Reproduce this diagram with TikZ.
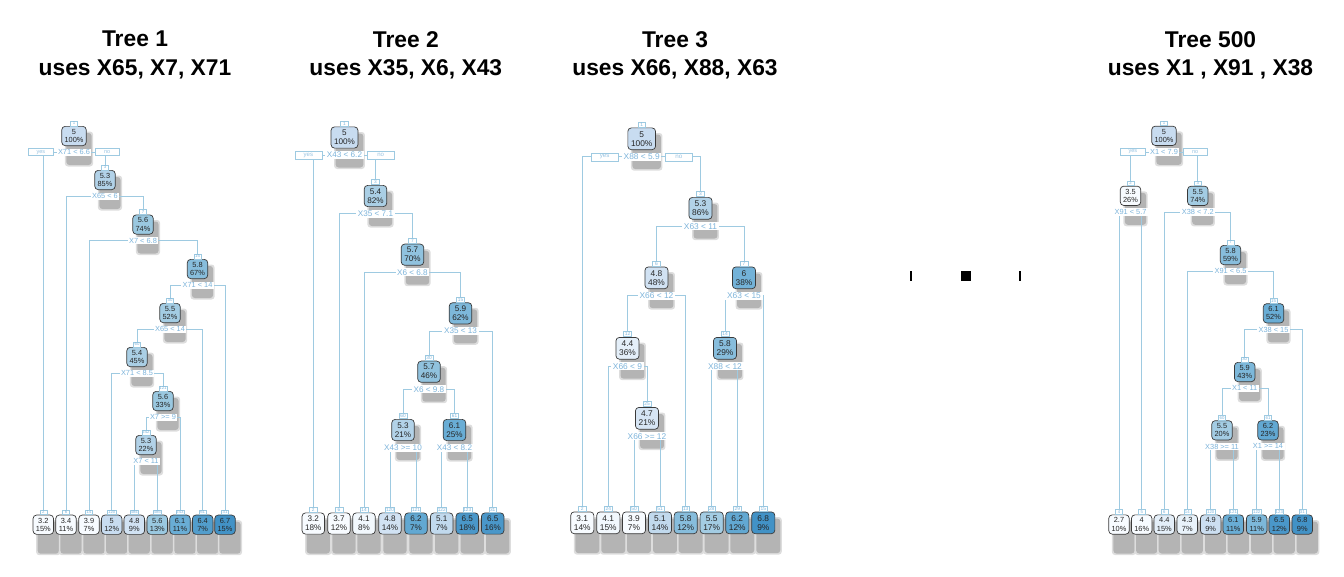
\documentclass[tikz,border=0pt]{standalone}
\usepackage{fontspec}
\setmainfont{Liberation Sans}
\usetikzlibrary{positioning}

\definecolor{bl0}{HTML}{F7FBFF}
\definecolor{bl1}{HTML}{DEEBF7}
\definecolor{bl2}{HTML}{C6DBEF}
\definecolor{bl3}{HTML}{9ECAE1}
\definecolor{bl4}{HTML}{6BAED6}
\definecolor{bl5}{HTML}{4292C6}
\definecolor{edgeblue}{HTML}{9ECAE1}
\definecolor{splitblue}{HTML}{7DB4DB}
\definecolor{boxline}{HTML}{3A3A3A}
\definecolor{shadegray}{HTML}{B4B4B4}

\pgfdeclarelayer{shadow}
\pgfdeclarelayer{edges}
\pgfsetlayers{shadow,edges,main}

\tikzset{
  val/.code={%
    \pgfmathsetmacro\shadeT{max(0,min(4.99,(#1-4)*5/2.6))}%
    \pgfmathtruncatemacro\shadeLo{floor(\shadeT)}%
    \pgfmathtruncatemacro\shadeHi{\shadeLo+1}%
    \pgfmathtruncatemacro\shadePc{round(100-(\shadeT-\shadeLo)*100)}%
    \edef\shadeDo{\noexpand\pgfkeysalso{fill=bl\shadeLo!\shadePc!bl\shadeHi}}\shadeDo},
  box/.style={draw=boxline, line width=0.7pt, rounded corners=3.5pt, align=center,
    text=black!85, font=\fontsize{7.4}{8.2}\selectfont, inner xsep=2.8pt, inner ysep=1.5pt,
    minimum width=20.5pt, minimum height=19.3pt},
  tag/.style={draw=edgeblue, fill=white, line width=0.5pt, text=splitblue,
    font=\fontsize{4.3}{4.3}\selectfont, inner sep=0.5pt, minimum width=7pt, minimum height=4.6pt},
  splitlbl/.style={fill=white, text=splitblue, font=\fontsize{7.4}{8}\selectfont,
    inner xsep=1.5pt, inner ysep=1pt},
  yesno/.style={draw=edgeblue, fill=white, line width=0.5pt, text=splitblue!80,
    font=\fontsize{5.5}{5.5}\selectfont, minimum width=24.5pt, minimum height=7pt, inner sep=0pt},
  conn/.style={draw=edgeblue, line width=0.8pt},
  dropshade/.style={fill=shadegray, rounded corners=3pt},
  title/.style={align=center, font=\fontsize{22.8}{28.3}\bfseries\selectfont, inner sep=0pt},
  gapmark/.style={fill=black, inner sep=0pt, minimum height=10pt},
}

\begin{document}
\begin{tikzpicture}[x=1pt, y=-1pt]
\useasboundingbox (0,0) rectangle (1344,576);

% titles
\node[title] (title1) at (135,55) {Tree 1\\uses X65, X7, X71};
\node[title] (title2) at (405.8,55) {Tree 2\\uses X35, X6, X43};
\node[title] (title3) at (675,55) {Tree 3\\uses X66, X88, X63};
\node[title] (title500) at (1210.5,55) {Tree 500\\uses X1 , X91 , X38};

% tree 1
\node[box, val=5.0, label={[tag]above:1}] (t1n1) at (74,136) {5\\100\%};
\node[splitlbl, below=2.4pt of t1n1] (t1s1) {X71 < 6.6};
\node[yesno, left=3pt of t1s1] (t1yes) {yes};
\node[yesno, right=3pt of t1s1] (t1no) {no};
\node[box, val=5.3, label={[tag]above:3}] (t1n3) at (105,180) {5.3\\85\%};
\node[splitlbl, below=2.4pt of t1n3] (t1s3) {X65 < 6};
\node[box, val=5.6, label={[tag]above:7}] (t1n7) at (143,224.5) {5.6\\74\%};
\node[splitlbl, below=2.4pt of t1n7] (t1s7) {X7 < 6.8};
\node[box, val=5.8, label={[tag]above:15}] (t1n15) at (197.5,269) {5.8\\67\%};
\node[splitlbl, below=2.4pt of t1n15] (t1s15) {X71 < 14};
\node[box, val=5.5, label={[tag]above:30}] (t1n30) at (170,313) {5.5\\52\%};
\node[splitlbl, below=2.4pt of t1n30] (t1s30) {X65 < 14};
\node[box, val=5.4, label={[tag]above:60}] (t1n60) at (137,357) {5.4\\45\%};
\node[splitlbl, below=2.4pt of t1n60] (t1s60) {X71 < 8.5};
\node[box, val=5.6, label={[tag]above:121}] (t1n121) at (163,401) {5.6\\33\%};
\node[splitlbl, below=2.4pt of t1n121] (t1s121) {X7 >= 9};
\node[box, val=5.3, label={[tag]above:242}] (t1n242) at (146,445) {5.3\\22\%};
\node[splitlbl, below=2.4pt of t1n242] (t1s242) {X7 < 11};
\node[box, val=3.2, label={[tag]above:2}] (t1n2) at (43.3,524.7) {3.2\\15\%};
\node[box, val=3.4, label={[tag]above:6}] (t1n6) at (66,524.7) {3.4\\11\%};
\node[box, val=3.9, label={[tag]above:14}] (t1n14) at (89,524.7) {3.9\\7\%};
\node[box, val=5.0, label={[tag]above:120}] (t1n120) at (111.7,524.7) {5\\12\%};
\node[box, val=4.8, label={[tag]above:484}] (t1n484) at (134.3,524.7) {4.8\\9\%};
\node[box, val=5.6, label={[tag]above:485}] (t1n485) at (157.3,524.7) {5.6\\13\%};
\node[box, val=6.1, label={[tag]above:243}] (t1n243) at (180,524.7) {6.1\\11\%};
\node[box, val=6.4, label={[tag]above:61}] (t1n61) at (202.7,524.7) {6.4\\7\%};
\node[box, val=6.7, label={[tag]above:31}] (t1n31) at (225,524.7) {6.7\\15\%};

% tree 2
\begin{scope}[every node/.append style={scale=1.1}]
\node[box, val=5.0, label={[tag]above:1}] (t2n1) at (344.5,137.5) {5\\100\%};
\node[splitlbl, below=2.4pt of t2n1] (t2s1) {X43 < 6.2};
\node[yesno, left=3pt of t2s1] (t2yes) {yes};
\node[yesno, right=3pt of t2s1] (t2no) {no};
\node[box, val=5.4, label={[tag]above:3}] (t2n3) at (375.5,196) {5.4\\82\%};
\node[splitlbl, below=2.4pt of t2n3] (t2s3) {X35 < 7.1};
\node[box, val=5.7, label={[tag]above:7}] (t2n7) at (412.5,254.7) {5.7\\70\%};
\node[splitlbl, below=2.4pt of t2n7] (t2s7) {X6 < 6.8};
\node[box, val=5.9, label={[tag]above:15}] (t2n15) at (460.5,313.3) {5.9\\62\%};
\node[splitlbl, below=2.4pt of t2n15] (t2s15) {X35 < 13};
\node[box, val=5.7, label={[tag]above:30}] (t2n30) at (429,371.7) {5.7\\46\%};
\node[splitlbl, below=2.4pt of t2n30] (t2s30) {X6 < 9.8};
\node[box, val=5.3, label={[tag]above:60}] (t2n60) at (403,430) {5.3\\21\%};
\node[splitlbl, below=2.4pt of t2n60] (t2s60) {X43 >= 10};
\node[box, val=6.1, label={[tag]above:61}] (t2n61) at (454.5,430) {6.1\\25\%};
\node[splitlbl, below=2.4pt of t2n61] (t2s61) {X43 < 8.2};
\node[box, val=3.2, label={[tag]above:2}] (t2n2) at (313.3,523.5) {3.2\\18\%};
\node[box, val=3.7, label={[tag]above:6}] (t2n6) at (339,523.5) {3.7\\12\%};
\node[box, val=4.1, label={[tag]above:14}] (t2n14) at (364,523.5) {4.1\\8\%};
\node[box, val=4.8, label={[tag]above:120}] (t2n120) at (390,523.5) {4.8\\14\%};
\node[box, val=6.2, label={[tag]above:121}] (t2n121) at (416,523.5) {6.2\\7\%};
\node[box, val=5.1, label={[tag]above:122}] (t2n122) at (441.7,523.5) {5.1\\7\%};
\node[box, val=6.5, label={[tag]above:123}] (t2n123) at (467.3,523.5) {6.5\\18\%};
\node[box, val=6.5, label={[tag]above:31}] (t2n31) at (492.7,523.5) {6.5\\16\%};
\end{scope}

% tree 3
\begin{scope}[every node/.append style={scale=1.13}]
\node[box, val=5.0, label={[tag]above:1}] (t3n1) at (641.7,138.8) {5\\100\%};
\node[splitlbl, below=2.4pt of t3n1] (t3s1) {X88 < 5.9};
\node[yesno, left=3pt of t3s1] (t3yes) {yes};
\node[yesno, right=3pt of t3s1] (t3no) {no};
\node[box, val=5.3, label={[tag]above:3}] (t3n3) at (700.5,208.3) {5.3\\86\%};
\node[splitlbl, below=2.4pt of t3n3] (t3s3) {X63 < 11};
\node[box, val=4.8, label={[tag]above:6}] (t3n6) at (656.5,277.8) {4.8\\48\%};
\node[splitlbl, below=2.4pt of t3n6] (t3s6) {X66 < 12};
\node[box, val=6.0, label={[tag]above:7}] (t3n7) at (744,277.8) {6\\38\%};
\node[splitlbl, below=2.4pt of t3n7] (t3s7) {X63 < 15};
\node[box, val=4.4, label={[tag]above:12}] (t3n12) at (627.5,348.3) {4.4\\36\%};
\node[splitlbl, below=2.4pt of t3n12] (t3s12) {X66 < 9};
\node[box, val=5.8, label={[tag]above:14}] (t3n14) at (725,348.3) {5.8\\29\%};
\node[splitlbl, below=2.4pt of t3n14] (t3s14) {X88 < 12};
\node[box, val=4.7, label={[tag]above:25}] (t3n25) at (647,418.3) {4.7\\21\%};
\node[splitlbl, below=2.4pt of t3n25] (t3s25) {X66 >= 12};
\node[box, val=3.1, label={[tag]above:2}] (t3n2) at (582.3,522.8) {3.1\\14\%};
\node[box, val=4.1, label={[tag]above:24}] (t3n24) at (608.3,522.8) {4.1\\15\%};
\node[box, val=3.9, label={[tag]above:50}] (t3n50) at (634,522.8) {3.9\\7\%};
\node[box, val=5.1, label={[tag]above:51}] (t3n51) at (660,522.8) {5.1\\14\%};
\node[box, val=5.8, label={[tag]above:13}] (t3n13) at (685.7,522.8) {5.8\\12\%};
\node[box, val=5.5, label={[tag]above:28}] (t3n28) at (711.7,522.8) {5.5\\17\%};
\node[box, val=6.2, label={[tag]above:29}] (t3n29) at (737.3,522.8) {6.2\\12\%};
\node[box, val=6.8, label={[tag]above:15}] (t3n15) at (763.3,522.8) {6.8\\9\%};
\end{scope}

% dots between
\node[gapmark, minimum width=2.2pt] (gapl) at (911,275.7) {};
\node[gapmark, minimum width=10.3pt] (gapm) at (966,275.7) {};
\node[gapmark, minimum width=2.2pt] (gapr) at (1020.3,275.7) {};

% tree 500
\node[box, val=5.0, label={[tag]above:1}] (t5n1) at (1164,135.8) {5\\100\%};
\node[splitlbl, below=2.4pt of t5n1] (t5s1) {X1 < 7.9};
\node[yesno, left=3pt of t5s1] (t5yes) {yes};
\node[yesno, right=3pt of t5s1] (t5no) {no};
\node[box, val=3.5, label={[tag]above:2}] (t5n2) at (1130.5,195.8) {3.5\\26\%};
\node[splitlbl, below=2.4pt of t5n2] (t5s2) {X91 < 5.7};
\node[box, val=5.5, label={[tag]above:3}] (t5n3) at (1197.8,195.8) {5.5\\74\%};
\node[splitlbl, below=2.4pt of t5n3] (t5s3) {X38 < 7.2};
\node[box, val=5.8, label={[tag]above:7}] (t5n7) at (1230.5,255) {5.8\\59\%};
\node[splitlbl, below=2.4pt of t5n7] (t5s7) {X91 < 6.5};
\node[box, val=6.1, label={[tag]above:15}] (t5n15) at (1273.5,313.3) {6.1\\52\%};
\node[splitlbl, below=2.4pt of t5n15] (t5s15) {X38 < 15};
\node[box, val=5.9, label={[tag]above:30}] (t5n30) at (1244.7,372) {5.9\\43\%};
\node[splitlbl, below=2.4pt of t5n30] (t5s30) {X1 < 11};
\node[box, val=5.5, label={[tag]above:60}] (t5n60) at (1222,430.3) {5.5\\20\%};
\node[splitlbl, below=2.4pt of t5n60] (t5s60) {X38 >= 11};
\node[box, val=6.2, label={[tag]above:61}] (t5n61) at (1268,430.3) {6.2\\23\%};
\node[splitlbl, below=2.4pt of t5n61] (t5s61) {X1 >= 14};
\node[box, val=2.7, label={[tag]above:4}] (t5n4) at (1119,524.5) {2.7\\10\%};
\node[box, val=4.0, label={[tag]above:5}] (t5n5) at (1141.7,524.5) {4\\16\%};
\node[box, val=4.4, label={[tag]above:6}] (t5n6) at (1164.3,524.5) {4.4\\15\%};
\node[box, val=4.3, label={[tag]above:14}] (t5n14) at (1187.3,524.5) {4.3\\7\%};
\node[box, val=4.9, label={[tag]above:120}] (t5n120) at (1210.7,524.5) {4.9\\9\%};
\node[box, val=6.1, label={[tag]above:121}] (t5n121) at (1233.3,524.5) {6.1\\11\%};
\node[box, val=5.9, label={[tag]above:122}] (t5n122) at (1256.7,524.5) {5.9\\11\%};
\node[box, val=6.5, label={[tag]above:123}] (t5n123) at (1279.3,524.5) {6.5\\12\%};
\node[box, val=6.8, label={[tag]above:31}] (t5n31) at (1302.3,524.5) {6.8\\9\%};

% connectors
\begin{pgfonlayer}{edges}
\draw[conn] (t1n2.north) |- (t1s1.center) -| (t1n3.north);
\draw[conn] (t1n6.north) |- (t1s3.center) -| (t1n7.north);
\draw[conn] (t1n14.north) |- (t1s7.center) -| (t1n15.north);
\draw[conn] (t1n30.north) |- (t1s15.center) -| (t1n31.north);
\draw[conn] (t1n60.north) |- (t1s30.center) -| (t1n61.north);
\draw[conn] (t1n120.north) |- (t1s60.center) -| (t1n121.north);
\draw[conn] (t1n242.north) |- (t1s121.center) -| (t1n243.north);
\draw[conn] (t1n484.north) |- (t1s242.center) -| (t1n485.north);

\draw[conn] (t2n2.north) |- (t2s1.center) -| (t2n3.north);
\draw[conn] (t2n6.north) |- (t2s3.center) -| (t2n7.north);
\draw[conn] (t2n14.north) |- (t2s7.center) -| (t2n15.north);
\draw[conn] (t2n30.north) |- (t2s15.center) -| (t2n31.north);
\draw[conn] (t2n60.north) |- (t2s30.center) -| (t2n61.north);
\draw[conn] (t2n120.north) |- (t2s60.center) -| (t2n121.north);
\draw[conn] (t2n122.north) |- (t2s61.center) -| (t2n123.north);

\draw[conn] (t3n2.north) |- (t3s1.center) -| (t3n3.north);
\draw[conn] (t3n6.north) |- (t3s3.center) -| (t3n7.north);
\draw[conn] (t3n12.north) |- (t3s6.center) -| (t3n13.north);
\draw[conn] (t3n14.north) |- (t3s7.center) -| (t3n15.north);
\draw[conn] (t3n24.north) |- (t3s12.center) -| (t3n25.north);
\draw[conn] (t3n28.north) |- (t3s14.center) -| (t3n29.north);
\draw[conn] (t3n50.north) |- (t3s25.center) -| (t3n51.north);

\draw[conn] (t5n2.north) |- (t5s1.center) -| (t5n3.north);
\draw[conn] (t5n4.north) |- (t5s2.center) -| (t5n5.north);
\draw[conn] (t5n6.north) |- (t5s3.center) -| (t5n7.north);
\draw[conn] (t5n14.north) |- (t5s7.center) -| (t5n15.north);
\draw[conn] (t5n30.north) |- (t5s15.center) -| (t5n31.north);
\draw[conn] (t5n60.north) |- (t5s30.center) -| (t5n61.north);
\draw[conn] (t5n120.north) |- (t5s60.center) -| (t5n121.north);
\draw[conn] (t5n122.north) |- (t5s61.center) -| (t5n123.north);
\end{pgfonlayer}

% shadows, a soft rim and a core
\begin{pgfonlayer}{shadow}
\foreach \n in {t1n1,t1n3,t1n7,t1n15,t1n30,t1n60,t1n121,t1n242,t1n2,t1n6,t1n14,t1n120,t1n484,t1n485,t1n243,t1n61,t1n31,
  t2n1,t2n3,t2n7,t2n15,t2n30,t2n60,t2n61,t2n2,t2n6,t2n14,t2n120,t2n121,t2n122,t2n123,t2n31,
  t3n1,t3n3,t3n6,t3n7,t3n12,t3n14,t3n25,t3n2,t3n24,t3n50,t3n51,t3n13,t3n28,t3n29,t3n15,
  t5n1,t5n2,t5n3,t5n7,t5n15,t5n30,t5n60,t5n61,t5n4,t5n5,t5n6,t5n14,t5n120,t5n121,t5n122,t5n123,t5n31}
{
  \fill[dropshade, fill=shadegray!45] ([xshift=3.5pt,yshift=-5.5pt]\n.north west) rectangle ([xshift=6.5pt,yshift=-20.5pt]\n.south east);
  \fill[dropshade] ([xshift=5pt,yshift=-7pt]\n.north west) rectangle ([xshift=5pt,yshift=-19pt]\n.south east);
}
\end{pgfonlayer}
\end{tikzpicture}
\end{document}
